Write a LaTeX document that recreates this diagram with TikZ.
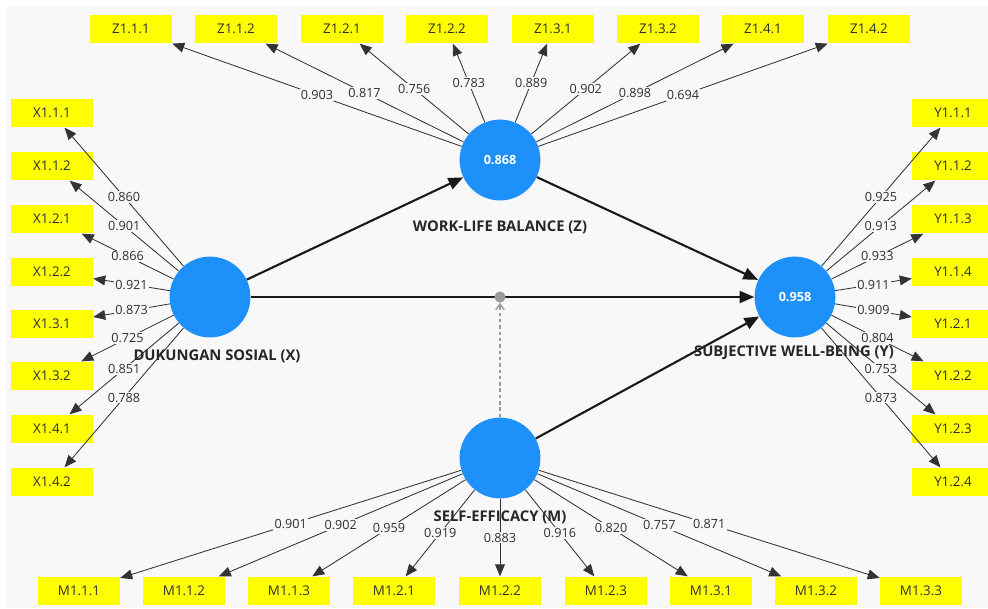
\documentclass[tikz,border=0pt]{standalone}
\usepackage{fontspec}
\setmainfont{Open Sans}
\usepackage{tikz}
\usetikzlibrary{arrows.meta}
\definecolor{lvblue}{HTML}{1E90FA}
\definecolor{indyellow}{HTML}{FFFF00}
\definecolor{bggray}{HTML}{F8F8F8}
\definecolor{txtgray}{HTML}{303030}
\definecolor{modgray}{HTML}{9A9A9A}

\begin{document}
\begin{tikzpicture}[x=0.025cm,y=-0.025cm,
  lv/.style={circle,fill=lvblue,minimum size=2.02cm,inner sep=0pt,text=white,font=\bfseries\fontsize{9}{10}\selectfont},
  ind/.style={rectangle,fill=indyellow,minimum width=2.05cm,minimum height=0.72cm,inner sep=0pt,text=txtgray,font=\fontsize{9.5}{11}\selectfont},
  lvname/.style={inner sep=0pt,text=black!85,font=\bfseries\fontsize{10.5}{12}\selectfont},
  wt/.style={fill=bggray,inner sep=0.8pt,text=txtgray,font=\fontsize{9}{10}\selectfont},
  loadarrow/.style={draw=black!80,line width=0.6pt,-{Triangle[length=8.5pt,width=7pt]}},
  patharrow/.style={draw=black!90,line width=1.5pt,-{Triangle[length=10.5pt,width=8.5pt]}},
  modline/.style={draw=modgray,line width=1pt,dash pattern=on 2.5pt off 2pt,-{Straight Barb[length=4pt,width=6pt]}}]
  \useasboundingbox (0,0) rectangle (988,608);
  \fill[white] (0,0) rectangle (988,608);
  \fill[bggray] (7,7) rectangle (988,608);

  \node[lv] (z) at (500,160) {0.868};
  \node[lv] (x) at (210,297) {};
  \node[lv] (y) at (795,297) {0.958};
  \node[lv] (m) at (500,458) {};

  \node[ind] (z111) at (131,29) {Z1.1.1};
  \node[ind] (z112) at (236,29) {Z1.1.2};
  \node[ind] (z121) at (342,29) {Z1.2.1};
  \node[ind] (z122) at (447,29) {Z1.2.2};
  \node[ind] (z131) at (553,29) {Z1.3.1};
  \node[ind] (z132) at (658,29) {Z1.3.2};
  \node[ind] (z141) at (763,29) {Z1.4.1};
  \node[ind] (z142) at (869,29) {Z1.4.2};

  \node[ind] (x111) at (52,113) {X1.1.1};
  \node[ind] (x112) at (52,166) {X1.1.2};
  \node[ind] (x121) at (52,219) {X1.2.1};
  \node[ind] (x122) at (52,272) {X1.2.2};
  \node[ind] (x131) at (52,324) {X1.3.1};
  \node[ind] (x132) at (52,376) {X1.3.2};
  \node[ind] (x141) at (52,429) {X1.4.1};
  \node[ind] (x142) at (52,482) {X1.4.2};

  \node[ind] (y111) at (953,113) {Y1.1.1};
  \node[ind] (y112) at (953,166) {Y1.1.2};
  \node[ind] (y113) at (953,219) {Y1.1.3};
  \node[ind] (y114) at (953,272) {Y1.1.4};
  \node[ind] (y121) at (953,324) {Y1.2.1};
  \node[ind] (y122) at (953,376) {Y1.2.2};
  \node[ind] (y123) at (953,429) {Y1.2.3};
  \node[ind] (y124) at (953,482) {Y1.2.4};

  \node[ind] (m111) at (79,591) {M1.1.1};
  \node[ind] (m112) at (184,591) {M1.1.2};
  \node[ind] (m113) at (289,591) {M1.1.3};
  \node[ind] (m121) at (394,591) {M1.2.1};
  \node[ind] (m122) at (500,591) {M1.2.2};
  \node[ind] (m123) at (606,591) {M1.2.3};
  \node[ind] (m131) at (711,591) {M1.3.1};
  \node[ind] (m132) at (816,591) {M1.3.2};
  \node[ind] (m133) at (921,591) {M1.3.3};

  \draw[loadarrow] (z) -- node[wt] {0.903} (z111);
  \draw[loadarrow] (z) -- node[wt] {0.817} (z112);
  \draw[loadarrow] (z) -- node[wt] {0.756} (z121);
  \draw[loadarrow] (z) -- node[wt] {0.783} (z122);
  \draw[loadarrow] (z) -- node[wt] {0.889} (z131);
  \draw[loadarrow] (z) -- node[wt] {0.902} (z132);
  \draw[loadarrow] (z) -- node[wt] {0.898} (z141);
  \draw[loadarrow] (z) -- node[wt] {0.694} (z142);

  \draw[loadarrow] (x) -- node[wt] {0.788} (x142);
  \draw[loadarrow] (x) -- node[wt] {0.851} (x141);
  \draw[loadarrow] (x) -- node[wt] {0.725} (x132);
  \draw[loadarrow] (x) -- node[wt] {0.873} (x131);
  \draw[loadarrow] (x) -- node[wt] {0.921} (x122);
  \draw[loadarrow] (x) -- node[wt] {0.866} (x121);
  \draw[loadarrow] (x) -- node[wt] {0.901} (x112);
  \draw[loadarrow] (x) -- node[wt] {0.860} (x111);

  \draw[loadarrow] (y) -- node[wt] {0.873} (y124);
  \draw[loadarrow] (y) -- node[wt] {0.753} (y123);
  \draw[loadarrow] (y) -- node[wt] {0.804} (y122);
  \draw[loadarrow] (y) -- node[wt] {0.909} (y121);
  \draw[loadarrow] (y) -- node[wt] {0.911} (y114);
  \draw[loadarrow] (y) -- node[wt] {0.933} (y113);
  \draw[loadarrow] (y) -- node[wt] {0.913} (y112);
  \draw[loadarrow] (y) -- node[wt] {0.925} (y111);

  \draw[loadarrow] (m) -- node[wt] {0.901} (m111);
  \draw[loadarrow] (m) -- node[wt] {0.902} (m112);
  \draw[loadarrow] (m) -- node[wt] {0.959} (m113);
  \draw[loadarrow] (m) -- node[wt] {0.919} (m121);
  \draw[loadarrow] (m) -- node[wt] {0.883} (m122);
  \draw[loadarrow] (m) -- node[wt] {0.916} (m123);
  \draw[loadarrow] (m) -- node[wt] {0.820} (m131);
  \draw[loadarrow] (m) -- node[wt] {0.757} (m132);
  \draw[loadarrow] (m) -- node[wt] {0.871} (m133);

  \draw[patharrow] (x) -- (z);
  \draw[patharrow] (x) -- (y);
  \draw[patharrow] (z) -- (y);
  \draw[patharrow] (m) -- (y);

  \node (mod) at (500,297) [circle,fill=modgray,minimum size=0.28cm,inner sep=0pt] {};
  \draw[modline] (m) -- (mod);

  \node[lvname] (zname) at (500,227) {WORK-LIFE BALANCE (Z)};
  \node[lvname] (xname) at (217,356) {DUKUNGAN SOSIAL (X)};
  \node[lvname] (yname) at (794,353) {SUBJECTIVE WELL-BEING (Y)};
  \node[lvname] (mname) at (500,517) {SELF-EFFICACY (M)};
\end{tikzpicture}
\end{document}
